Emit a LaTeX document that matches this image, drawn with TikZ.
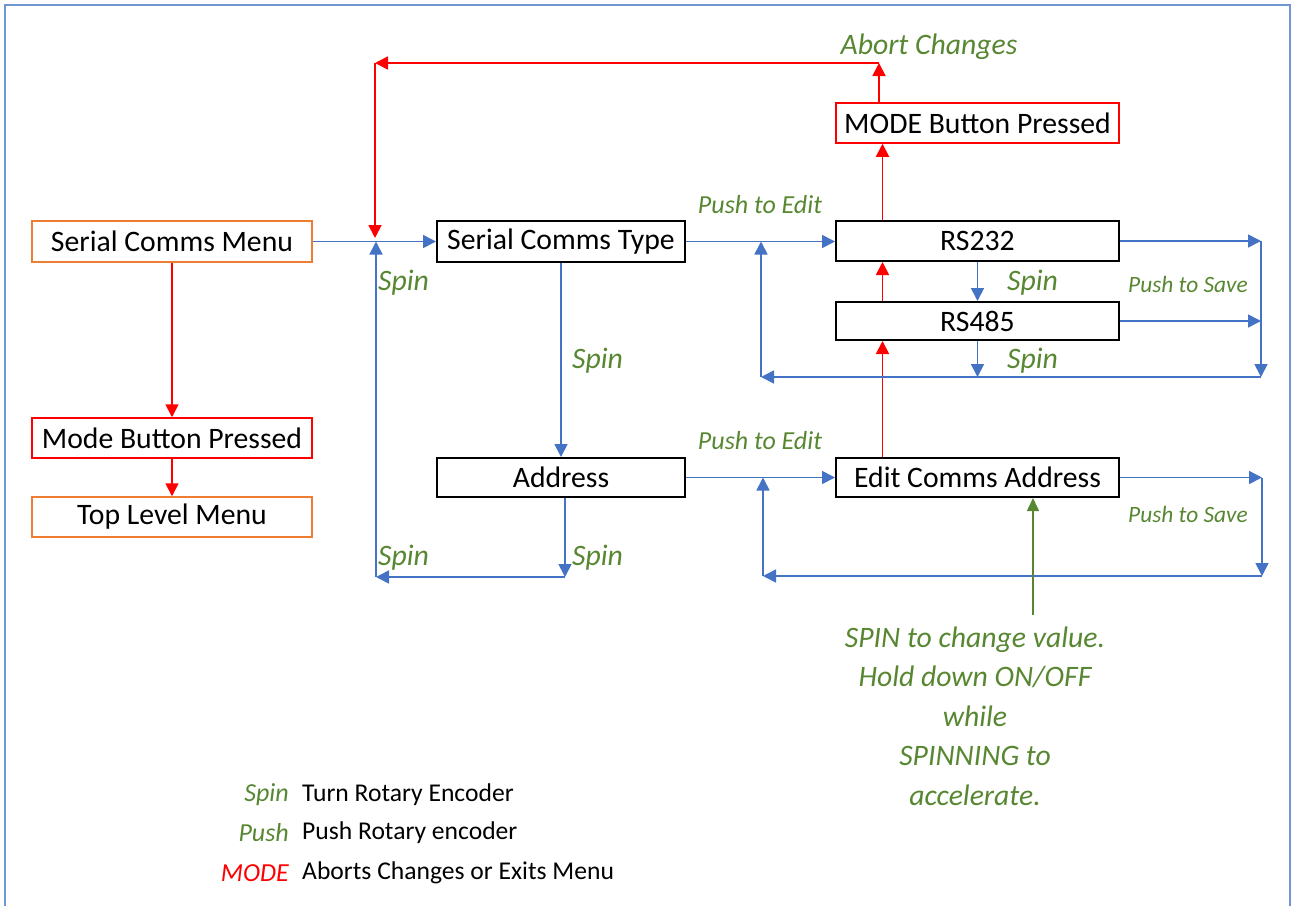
\documentclass[tikz,border=0pt]{standalone}
\usepackage{fontspec}
\setmainfont{Carlito}
\usetikzlibrary{arrows.meta}
\definecolor{cblue}{RGB}{68,114,196}
\definecolor{cframe}{RGB}{110,150,210}
\definecolor{cred}{RGB}{255,0,0}
\definecolor{corange}{RGB}{237,125,49}
\definecolor{cgreen}{RGB}{88,135,50}
\tikzset{
  box/.style={draw=black, line width=2pt, minimum height=40pt, inner sep=0pt, font=\fontsize{29.7}{34}\selectfont},
  obox/.style={box, draw=corange, line width=1.5pt},
  rbox/.style={box, draw=cred, line width=1.5pt},
  bluearr/.style={draw=cblue, line width=1.7pt, -{Triangle[length=13pt,width=13pt]}},
  redarr/.style={draw=cred, line width=1.8pt, -{Triangle[length=13pt,width=13pt]}},
  greenarr/.style={draw=cgreen, line width=1.6pt, -{Triangle[length=13pt,width=12pt]}},
  lbl/.style={text=cgreen, font=\fontsize{29.7}{34}\selectfont\itshape, inner sep=0pt},
  pelbl/.style={text=cgreen, font=\fontsize{26}{30}\selectfont\itshape, inner sep=0pt},
  pslbl/.style={text=cgreen, font=\fontsize{23.4}{27}\selectfont\itshape, inner sep=0pt},
  leglbl/.style={text=cgreen, font=\fontsize{26}{30}\selectfont\itshape, inner sep=0pt},
  leg/.style={font=\fontsize{25.6}{30}\selectfont, inner sep=0pt}
}
\begin{document}
\begin{tikzpicture}[x=1pt,y=-1pt]
\useasboundingbox (0,0) rectangle (1291,906);
\draw[cframe, line width=2pt] (5,906) -- (5,5) -- (1290,5) -- (1290,906);

% nodes
\node[obox, minimum width=280pt, minimum height=41pt] (scm) at (172,241.5) {Serial Comms Menu};
\node[rbox, minimum width=280pt] (mbp) at (172,438) {Mode Button Pressed};
\node[obox, minimum width=280pt] (tlm) at (172,517) {Top Level Menu};
\node[box, minimum width=248pt, minimum height=41pt] (sct) at (561,241.5) {Serial Comms Type};
\node[box, minimum width=248pt, minimum height=39pt] (addr) at (561,477.5) {Address};
\node[rbox, minimum width=283pt] (modebp) at (977.5,123) {MODE Button Pressed};
\node[box, minimum width=283pt] (rs232) at (977.5,241) {RS232};
\node[box, minimum width=283pt, minimum height=38pt] (rs485) at (977.5,321) {RS485};
\node[box, minimum width=283pt, minimum height=39pt] (eca) at (977.5,477.5) {Edit Comms Address};

% coordinates
\coordinate (ac) at (879,63);
\coordinate (rl) at (375,63);
\coordinate (rj) at (375,238);
\coordinate (j1t) at (376,241.5);
\coordinate (j1b) at (376,577);
\coordinate (a2) at (565,577);
\coordinate (j2t) at (761,241.5);
\coordinate (j2b) at (761,377);
\coordinate (r5b) at (977.5,377);
\coordinate (e1) at (1261,241);
\coordinate (e2) at (1261,321);
\coordinate (e3) at (1261,377);
\coordinate (j3t) at (763,477.5);
\coordinate (j3b) at (763,576);
\coordinate (f1) at (1262,477.5);
\coordinate (f2) at (1262,576);
\coordinate (g0) at (1033,615);

% red connectors
\draw[redarr] (scm.south) -- (mbp.north);
\draw[redarr] (mbp.south) -- (tlm.north);
\draw[redarr] ([xshift=-95pt]rs232.north) -- ([xshift=-95pt]modebp.south);
\draw[redarr] ([xshift=-98.5pt]modebp.north) -- (ac);
\draw[redarr] (ac) -- (rl);
\draw[redarr] (rl) -- (rj);
\draw[redarr] ([xshift=-95pt]rs485.north) -- ([xshift=-95pt]rs232.south);
\draw[redarr] ([xshift=-95pt]eca.north) -- ([xshift=-95pt]rs485.south);

% blue connectors
\draw[bluearr] (scm.east) -- (sct.west);
\draw[bluearr] (j1b) -- (j1t);
\draw[bluearr] (sct.south) -- (addr.north);
\draw[bluearr] ([xshift=4pt]addr.south) -- (a2);
\draw[bluearr] (a2) -- (j1b);
\draw[bluearr] (sct.east) -- (sct.east -| rs232.west);
\draw[bluearr] (j2b) -- (j2t);
\draw[bluearr] (rs232.south) -- (rs485.north);
\draw[bluearr] (rs485.south) -- (r5b);
\draw[bluearr] (rs232.east) -- (e1);
\draw[bluearr] (rs485.east) -- (e2);
\draw[bluearr] (e1) -- (e3);
\draw[bluearr] (e3) -- (j2b);
\draw[bluearr] (addr.east) -- (eca.west);
\draw[bluearr] (j3b) -- (j3t);
\draw[bluearr] (eca.east) -- (f1);
\draw[bluearr] (f1) -- (f2);
\draw[bluearr] (f2) -- (j3b);

% green connector
\draw[greenarr] (g0) -- (g0 |- eca.south);

% labels
\node[lbl] (lab) at (929,47) {Abort Changes};
\node[pelbl] (pe1) at (760,205) {Push to Edit};
\node[pelbl] (pe2) at (760,441) {Push to Edit};
\node[pslbl] (ps1) at (1188,284) {Push to Save};
\node[pslbl] (ps2) at (1188,514) {Push to Save};
\node[lbl, anchor=west] (sp1) at (378,283) {Spin};
\node[lbl, anchor=west] (sp2) at (572,361) {Spin};
\node[lbl, anchor=west] (sp3) at (572,558) {Spin};
\node[lbl, anchor=west] (sp4) at (378,558) {Spin};
\node[lbl, anchor=west] (sp5) at (1007,283) {Spin};
\node[lbl, anchor=west] (sp6) at (1007,361) {Spin};

\node[lbl, align=center, font=\fontsize{29.7}{39.5}\selectfont\itshape] (note) at (975,716)
  {SPIN to change value.\\Hold down ON/OFF\\while\\SPINNING to\\accelerate.};

% legend
\node[leglbl, anchor=east] (l1) at (289,795) {Spin};
\node[leglbl, anchor=east] (l2) at (289,833) {Push};
\node[leglbl, anchor=east, text=cred] (l3) at (289,873) {MODE};
\node[leg, anchor=west] (t1) at (302,795) {Turn Rotary Encoder};
\node[leg, anchor=west] (t2) at (302,833) {Push Rotary encoder};
\node[leg, anchor=west] (t3) at (302,873) {Aborts Changes or Exits Menu};
\end{tikzpicture}
\end{document}
